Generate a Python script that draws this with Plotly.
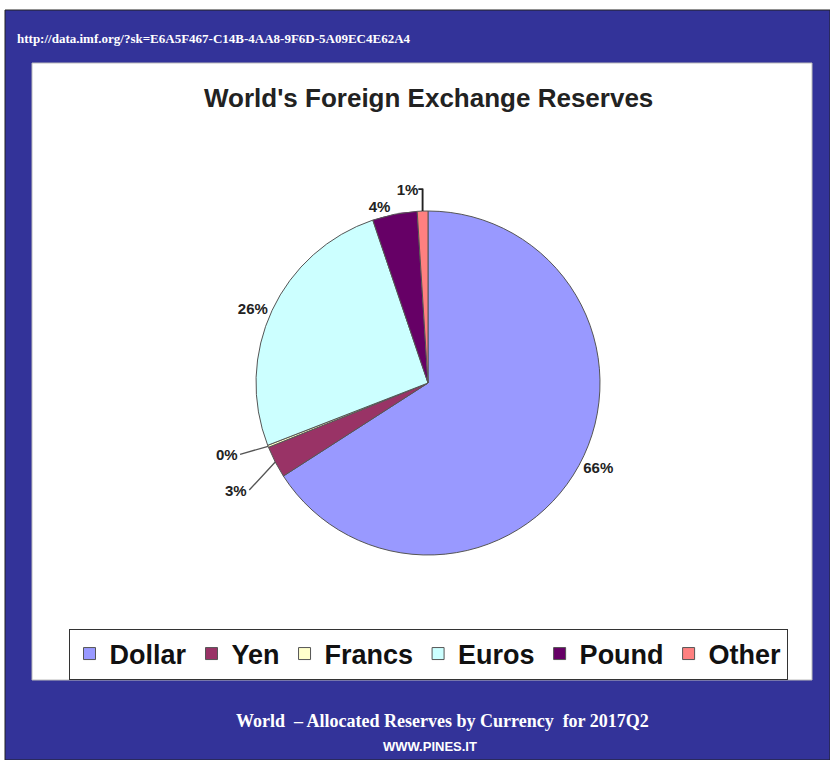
import math
import plotly.graph_objects as go

currencies = ["Dollar", "Yen", "Francs", "Euros", "Pound", "Other"]
shares = [65.9, 3.0, 0.2, 25.7, 4.2, 1.0]
colors = ["#9999ff", "#993366", "#ffffcc", "#ccffff", "#660066", "#ff8080"]
# small slices whose labels are drawn with leader lines
leader_slices = ["Yen", "Francs"]

W, H = 830, 760
CX, CY, R = 428, 383, 172  # pie centre / radius in page pixels (domain below)

textpos = ["none" if c in leader_slices else "outside" for c in currencies]

fig = go.Figure()
fig.add_trace(go.Pie(
    labels=currencies, values=shares, sort=False, direction="clockwise", rotation=0,
    marker=dict(colors=colors, line=dict(color="#555555", width=1)),
    texttemplate="%{percent:.0%}", textposition=textpos,
    textfont=dict(family="Liberation Sans, Arial", size=15, color="#222222", weight="bold"),
    domain=dict(x=[(CX - R) / W, (CX + R) / W], y=[1 - (CY + R) / H, 1 - (CY - R) / H]),
    hoverinfo="label+percent",
))

shapes = [
    dict(type="rect", xref="paper", yref="paper", x0=5/W, x1=1, y0=0, y1=1-10/H,
         fillcolor="#333399", line=dict(color="#222222", width=1), layer="below"),
    dict(type="rect", xref="paper", yref="paper", x0=32/W, x1=812/W, y0=1-680/H, y1=1-63/H,
         fillcolor="white", line=dict(color="#bbbbbb", width=1), layer="below"),
]

annotations = [
    dict(text="<b>World's Foreign Exchange Reserves</b>", x=429/W, y=1-98/H, xref="paper", yref="paper",
         xanchor="center", yanchor="middle", showarrow=False,
         font=dict(family="Liberation Sans, Arial", size=26, color="#222222")),
    dict(text="<b>http://data.imf.org/?sk=E6A5F467-C14B-4AA8-9F6D-5A09EC4E62A4</b>", x=15/W, y=1-38/H,
         xref="paper", yref="paper", xanchor="left", yanchor="middle", showarrow=False,
         font=dict(family="Liberation Serif, Times New Roman", size=13, color="white")),
    dict(text="<b>World  – Allocated Reserves by Currency  for 2017Q2</b>", x=442/W, y=1-721/H,
         xref="paper", yref="paper", xanchor="center", yanchor="middle", showarrow=False,
         font=dict(family="Liberation Serif, Times New Roman", size=18, color="white")),
    dict(text="<b>WWW.PINES.IT</b>", x=430/W, y=1-746/H, xref="paper", yref="paper",
         xanchor="center", yanchor="middle", showarrow=False,
         font=dict(family="Liberation Sans Narrow, Liberation Sans, Arial", size=13, color="white")),
]

# leader-line labels for the small slices, anchored at the slice mid-angle
total = sum(shares)
cum = 0.0
offsets = {"Yen": (-26, 28), "Francs": (-28, 8)}
for name, v in zip(currencies, shares):
    mid = (cum + v / 2) / total * 2 * math.pi
    cum += v
    if name not in leader_slices:
        continue
    px = CX + R * math.sin(mid)
    py = CY - R * math.cos(mid)
    ax, ay = offsets[name]
    annotations.append(dict(
        x=px / W, y=1 - py / H, xref="paper", yref="paper",
        text="<b>%d%%</b>" % round(v / total * 100),
        showarrow=True, arrowhead=0, arrowwidth=1.3, arrowcolor="#555555",
        ax=ax, ay=ay, standoff=0, xanchor="right", yanchor="middle",
        font=dict(family="Liberation Sans, Arial", size=15, color="#222222"),
    ))

fig.update_layout(
    width=W, height=H, margin=dict(l=0, r=0, t=0, b=0),
    paper_bgcolor="white", plot_bgcolor="white",
    shapes=shapes, annotations=annotations,
    showlegend=True,
    legend=dict(orientation="h", x=428/W, xanchor="center", y=1-654/H, yanchor="middle",
                bgcolor="white", bordercolor="#333333", borderwidth=1,
                font=dict(family="Liberation Sans, Arial", size=27, color="#111111", weight="bold"),
                traceorder="normal"),
)

fig.write_html("out.html", config={"displayModeBar": False},
               post_script="document.body.style.margin='0';")
